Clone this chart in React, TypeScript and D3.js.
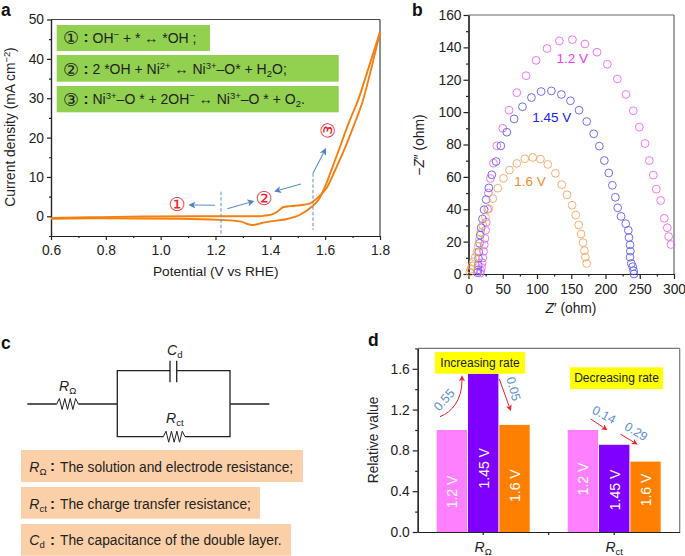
/** Four panel OER figure: LSV curve, Nyquist plot, equivalent circuit, relative resistance bars. */

import { useEffect, useRef } from 'react'
import {
  axisBottom,
  axisLeft,
  curveMonotoneX,
  line,
  scaleBand,
  scaleLinear,
  select,
} from 'd3'
import type { Axis } from 'd3'

const FONT = '"Liberation Sans", Arial, sans-serif'
const INK = '#222'

// panel a, [V vs RHE, mA cm-2]
const forwardScan: [number, number][] = [
  [0.6, -0.4], [0.779, -0.2], [0.961, -0.05], [1.143, 0], [1.362, 0], [1.38, 0.2],
  [1.406, 0.5], [1.424, 1.1], [1.446, 2.3], [1.472, 2.6], [1.508, 2.8], [1.545, 3.3],
  [1.574, 4.8], [1.607, 7.4], [1.636, 11.7], [1.672, 17.3], [1.698, 21.9], [1.712, 24.4],
  [1.738, 29.5], [1.767, 37.2], [1.8, 46.8],
]
const returnScan: [number, number][] = [
  [0.6, -0.6], [0.779, -0.5], [1.07, -0.6], [1.216, -0.9], [1.289, -1.3], [1.333, -2.2],
  [1.37, -1.7], [1.399, -1.3], [1.453, -0.8], [1.508, 0.4], [1.552, 2.5], [1.574, 4.0],
  [1.6, 7.6], [1.625, 12.2], [1.654, 17.6], [1.676, 21.9], [1.69, 24.4], [1.72, 29.5],
  [1.756, 37.2], [1.8, 46.8],
]

// panel b, [Z', -Z'']
const nyquist12: [number, number][] = [
  [17, 0.5], [18, 2], [19, 4], [20, 7], [21, 10], [22, 14], [23, 18], [24, 22], [25, 27],
  [26, 32], [28, 40], [29, 50], [32, 59], [36.5, 68.5], [41.3, 79.2], [50, 90], [59.3, 101.2],
  [70.5, 112], [84.1, 122.5], [98.7, 132], [114.7, 139.3], [132.7, 144], [151.7, 144.8],
  [170, 142.1], [187.6, 137], [202.7, 129.6], [217.3, 120.5], [229.9, 110.9], [240.6, 100.8],
  [249.4, 90.7], [257.7, 80.6], [264, 70.1], [269.8, 61.1], [274.2, 52.4], [280.5, 45.4],
  [285.9, 34.4], [290.2, 28.6], [292.2, 23.1], [295.6, 18.2],
]
const nyquist145: [number, number][] = [
  [13.1, 0.8], [13.6, 2.5], [14.1, 5.5], [14.6, 9.6], [15, 13.7], [16, 19], [17, 24], [18.5, 28.6],
  [20.4, 34], [22.8, 39.7], [25.8, 46], [29.7, 53.2], [34, 61.3], [40.3, 69.5], [47.2, 79.2],
  [55.9, 87.6], [66.6, 95.8], [78.8, 103.3], [91.9, 109], [106, 112.7], [121, 113.1],
  [135.6, 110.9], [148.8, 107], [161.4, 101.2], [172.6, 94.2], [182.8, 86.6], [191, 79],
  [198.3, 70.1], [204.7, 62.4], [210, 54.8], [214.4, 47.4], [217.8, 40.9], [222.7, 35.6],
  [229.5, 31.1], [233.3, 27], [234.3, 22.5], [235.8, 18], [236.3, 14.1], [235.8, 10.4],
  [237.7, 6.5], [239.7, 4.5], [241, 2], [241.6, 0],
]
const nyquist16: [number, number][] = [
  [1.9, 1.2], [3.4, 2.9], [5.3, 4.9], [7.3, 7.6], [9.7, 10.2], [12.2, 13.5], [14.1, 17.2],
  [16, 21.3], [18, 25.6], [20.9, 30], [24.8, 35], [29.7, 40.5], [35.5, 46.6], [42.8, 53],
  [51, 59.1], [59.8, 64.2], [70.5, 68.3], [82.2, 71.2], [93.8, 72], [105, 71], [115.7, 67.7],
  [126.9, 62.2], [136.1, 55.2], [143.9, 48.9], [151.2, 42.5], [156.5, 36.4], [160.9, 30.3],
  [164.3, 24.7], [167.2, 19.4], [169.2, 14.5], [170.6, 10.4], [172.6, 6.5],
]

// panel d
const elements = ['R_ohm', 'R_ct']
const voltages = ['1.2 V', '1.45 V', '1.6 V']
const relativeOhm = [1.0, 1.55, 1.05]
const relativeCt = [1.0, 0.855, 0.69]
const barColors = ['#FF80FF', '#8000FF', '#FF8000']

function AxisG({ axis, y = 0, x = 0, color = INK }: { axis: Axis<any>; x?: number; y?: number; color?: string }) {
  const ref = useRef<SVGGElement>(null)
  useEffect(() => {
    if (!ref.current) return
    const g = select(ref.current)
    g.call(axis as any)
    g.attr('font-family', FONT).attr('font-size', 13.8)
    g.selectAll('line,path').attr('stroke', color).attr('stroke-width', 1.2)
    g.selectAll('text').attr('fill', INK)
  }, [axis, color])
  return <g ref={ref} transform={`translate(${x},${y})`} />
}

type Part = [string, ('sup' | 'sub' | 'i' | 'isub')?]

// text run with super/subscripts, keeps track of the baseline shift
function Rich({ x, y, parts, size = 13, fill = INK, anchor = 'start', transform }: {
  x?: number; y?: number; parts: Part[]; size?: number; fill?: string; anchor?: string; transform?: string
}) {
  let shift = 0
  return (
    <text x={x} y={y} fontSize={size} fill={fill} textAnchor={anchor} transform={transform} fontFamily={FONT}>
      {parts.map(([s, kind], i) => {
        const target = kind === 'sup' ? -size * 0.36 : kind === 'sub' || kind === 'isub' ? size * 0.2 : 0
        const dy = target - shift
        shift = target
        return (
          <tspan
            key={i}
            dy={dy}
            fontSize={kind && kind !== 'i' ? size * 0.68 : size}
            fontStyle={kind === 'i' ? 'italic' : 'normal'}
          >
            {s}
          </tspan>
        )
      })}
    </text>
  )
}

function Circled({ ch, x, y, fill = INK, size = 16, rotate = 0 }: { ch: string; x: number; y: number; fill?: string; size?: number; rotate?: number }) {
  return (
    <text
      transform={`translate(${x},${y}) rotate(${rotate})`}
      fontFamily='"DejaVu Sans", sans-serif'
      fontSize={size}
      fill={fill}
      textAnchor="middle"
      dominantBaseline="central"
    >
      {ch}
    </text>
  )
}

function PanelLetter({ t, x, y }: { t: string; x: number; y: number }) {
  return <text x={x} y={y} fontFamily={FONT} fontWeight="bold" fontSize={17.5} fill="#111">{t}</text>
}

function PanelA() {
  const x = scaleLinear().domain([0.6, 1.8]).range([51, 380])
  const y = scaleLinear().domain([-5, 50]).range([236, 19.5])
  const path = line<[number, number]>().x((d) => x(d[0])).y((d) => y(d[1])).curve(curveMonotoneX)
  const rows = [
    { ch: '①', top: 25, bottom: 51, right: 210, base: 42.7, parts: [['OH'], ['−', 'sup'], [' + * ↔ *OH ;']] as Part[] },
    { ch: '②', top: 55, bottom: 81.7, right: 338.7, base: 74, parts: [['2 *OH + Ni'], ['2+', 'sup'], [' ↔ Ni'], ['3+', 'sup'], ['–O* + H'], ['2', 'sub'], ['O;']] as Part[] },
    { ch: '③', top: 86, bottom: 112.3, right: 338.7, base: 104.3, parts: [['Ni'], ['3+', 'sup'], ['–O * + 2OH'], ['−', 'sup'], [' ↔ Ni'], ['3+', 'sup'], ['–O * + O'], ['2', 'sub'], ['.']] as Part[] },
  ]
  const blue = '#5B8FC9'
  return (
    <g>
      <line x1={51} x2={380} y1={19.5} y2={19.5} stroke="#444" strokeWidth={1.2} />
      <line x1={380} x2={380} y1={19.5} y2={236} stroke="#444" strokeWidth={1.2} />
      <AxisG axis={axisLeft(y).tickValues([-5, 5, 15, 25, 35, 45]).tickSize(2).tickFormat(() => '').tickSizeOuter(0)} x={51} />
      <AxisG axis={axisLeft(y).tickValues([0, 10, 20, 30, 40, 50]).tickSize(4).tickPadding(3).tickSizeOuter(0)} x={51} />
      <AxisG axis={axisBottom(x).tickValues([0.7, 0.9, 1.1, 1.3, 1.5, 1.7]).tickSize(2).tickFormat(() => '').tickSizeOuter(0)} y={236} />
      <AxisG axis={axisBottom(x).tickValues([0.6, 0.8, 1.0, 1.2, 1.4, 1.6, 1.8]).tickSize(4).tickPadding(5).tickFormat((d) => Number(d).toFixed(1)).tickSizeOuter(0)} y={236} />

      {rows.map((r) => (
        <g key={r.ch}>
          <rect x={56.7} y={r.top} width={r.right - 56.7} height={r.bottom - r.top} fill="#92D050" />
          <Circled ch={r.ch} x={71} y={r.base - 5} size={18} />
          <text x={83.5} y={r.base - 0.5} fontFamily={FONT} fontWeight="bold" fontSize={15} fill={INK}>:</text>
          <Rich x={92.5} y={r.base} parts={r.parts} size={14} />
        </g>
      ))}

      <path d={path(returnScan) ?? ''} fill="none" stroke="#F57F0F" strokeWidth={1.9} />
      <path d={path(forwardScan) ?? ''} fill="none" stroke="#F57F0F" strokeWidth={1.9} />

      <line x1={221} x2={221} y1={191.7} y2={235} stroke={blue} strokeWidth={1} strokeDasharray="3.5 2" />
      <line x1={313} x2={313} y1={173.3} y2={230} stroke={blue} strokeWidth={1} strokeDasharray="3.5 2" />
      <line x1={215} y1={205.2} x2={194} y2={205} stroke={blue} strokeWidth={1.1} markerEnd="url(#arrowBlue)" />
      <line x1={227.3} y1={208.7} x2={249} y2={202.5} stroke={blue} strokeWidth={1.1} markerEnd="url(#arrowBlue)" />
      <line x1={301} y1={184} x2={279.5} y2={190} stroke={blue} strokeWidth={1.1} markerEnd="url(#arrowBlue)" />
      <line x1={313} y1={173.3} x2={323.5} y2={153} stroke={blue} strokeWidth={1.1} markerEnd="url(#arrowBlue)" />

      <Circled ch="①" x={177} y={204} fill="#F0202A" size={19} />
      <Circled ch="②" x={264} y={198.3} fill="#F0202A" size={19} />
      <Circled ch="③" x={327.7} y={130.5} fill="#F0202A" size={19} rotate={-80} />

      <text x={215.7} y={275.7} textAnchor="middle" fontFamily={FONT} fontSize={13.7} fill={INK}>Potential (V vs RHE)</text>
      <Rich
        transform="translate(15,127) rotate(-90)"
        anchor="middle"
        size={13.8}
        parts={[['Current density (mA cm'], ['−2', 'sup'], [')']]}
      />
    </g>
  )
}

function PanelB() {
  const x = scaleLinear().domain([0, 300]).range([468.5, 674])
  const y = scaleLinear().domain([0, 160]).range([274, 15])
  const series: { data: [number, number][]; color: string }[] = [
    { data: nyquist12, color: '#F065F0' },
    { data: nyquist145, color: '#5F5FF0' },
    { data: nyquist16, color: '#F5A55F' },
  ]
  return (
    <g>
      <line x1={468.5} x2={674} y1={15} y2={15} stroke="#666" strokeWidth={1.2} />
      <line x1={674} x2={674} y1={15} y2={274} stroke="#666" strokeWidth={1.2} />
      <AxisG axis={axisLeft(y).tickValues([10, 30, 50, 70, 90, 110, 130, 150]).tickSize(2.5).tickFormat(() => '').tickSizeOuter(0)} x={468.5} />
      <AxisG axis={axisLeft(y).tickValues([0, 20, 40, 60, 80, 100, 120, 140, 160]).tickSize(5).tickPadding(2).tickSizeOuter(0)} x={468.5} />
      <AxisG axis={axisBottom(x).tickValues([25, 75, 125, 175, 225, 275]).tickSize(2.5).tickFormat(() => '').tickSizeOuter(0)} y={274} />
      <AxisG axis={axisBottom(x).tickValues([0, 50, 100, 150, 200, 250, 300]).tickSize(5).tickPadding(5).tickSizeOuter(0)} y={274} />

      {series.map((s) => (
        <g key={s.color}>
          {s.data.map((d, i) => (
            <circle key={i} cx={x(d[0])} cy={y(d[1])} r={3.9} fill="none" stroke={s.color} strokeWidth={0.9} />
          ))}
        </g>
      ))}

      <text x={572.3} y={62.5} textAnchor="middle" fontFamily={FONT} fontSize={13.5} fill="#F03CF0">1.2 V</text>
      <text x={551.7} y={121.5} textAnchor="middle" fontFamily={FONT} fontSize={13.5} fill="#2222E8">1.45 V</text>
      <text x={530} y={185.5} textAnchor="middle" fontFamily={FONT} fontSize={13.5} fill="#F58A2A">1.6 V</text>

      <Rich x={571} y={313} anchor="middle" size={13.8} parts={[['Z', 'i'], ['′ (ohm)']]} />
      <Rich transform="translate(423.5,145) rotate(-90)" anchor="middle" size={13.8} parts={[['−'], ['Z', 'i'], ['″ (ohm)']]} />
    </g>
  )
}

function Zigzag({ x0, x1, y }: { x0: number; x1: number; y: number }) {
  const n = 8
  const step = (x1 - x0) / n
  const pts = Array.from({ length: n + 1 }, (_, i) => {
    const py = i === 0 || i === n ? y : i % 2 ? y - 5.5 : y + 5.5
    return `${x0 + i * step},${py}`
  })
  return <polyline points={pts.join(' ')} fill="none" stroke={INK} strokeWidth={1} />
}

function PanelC() {
  const wire = { stroke: INK, strokeWidth: 1.3, fill: 'none' }
  const notes: { top: number; bottom: number; right: number; base: number; sym: Part[]; text: string }[] = [
    { top: 450, bottom: 482, right: 303, base: 471.7, sym: [['R', 'i'], ['Ω', 'sub']], text: 'The solution and electrode resistance;' },
    { top: 487, bottom: 518.7, right: 260, base: 509, sym: [['R', 'i'], ['ct', 'sub']], text: 'The charge transfer resistance;' },
    { top: 524, bottom: 555.7, right: 291, base: 545, sym: [['C', 'i'], ['d', 'sub']], text: 'The capacitance of the double layer.' },
  ]
  return (
    <g>
      <path d="M27.3 404H56.7M78.3 404H117.3V370.7H170M176.7 370.7H230V436.7H185M163.3 436.7H117.3V404M230 404H269.3" {...wire} />
      <path d="M170 360.7V382.3M176.7 360.7V382.3" {...wire} />
      <Zigzag x0={56.7} x1={78.3} y={404} />
      <Zigzag x0={163.3} x1={185} y={436.7} />
      <Rich x={59} y={390.7} size={14} parts={[['R', 'i'], ['Ω', 'sub']]} />
      <Rich x={167} y={355} size={14} parts={[['C', 'i'], ['d', 'sub']]} />
      <Rich x={166} y={423.3} size={14} parts={[['R', 'i'], ['ct', 'sub']]} />
      {notes.map((n) => (
        <g key={n.base}>
          <rect x={21} y={n.top} width={n.right - 21} height={n.bottom - n.top} fill="#FBD0A8" />
          <Rich x={29.3} y={n.base} size={14} parts={n.sym} />
          <text x={50} y={n.base - 0.5} fontFamily={FONT} fontWeight="bold" fontSize={15} fill={INK}>:</text>
          <text x={60} y={n.base} fontFamily={FONT} fontSize={13.8} fill={INK}>{n.text}</text>
        </g>
      ))}
    </g>
  )
}

function PanelD() {
  const y = scaleLinear().domain([0, 1.8]).range([532, 348.4])
  const x0 = scaleBand().domain(elements).range([417.7, 679.7])
  const x1 = scaleBand().domain(voltages).range([-46.5, 46.5]).paddingInner(0.03)
  const groups = [relativeOhm, relativeCt]
  // label centres along the bars, px
  const labelY = [[492, 468.3, 485.7], [479, 490, 490]]
  const blue = '#5B8FD5'
  const red = '#F0202A'
  const center = (e: string) => (x0(e) ?? 0) + x0.bandwidth() / 2
  return (
    <g>
      <line x1={417.7} x2={679.7} y1={348.4} y2={348.4} stroke="#777" strokeWidth={1.2} />
      <line x1={679.7} x2={679.7} y1={348.4} y2={532} stroke="#777" strokeWidth={1.2} />

      {elements.map((e, gi) => (
        <g key={e} transform={`translate(${center(e)},0)`}>
          {voltages.map((v, i) => (
            <g key={v}>
              <rect
                x={x1(v)}
                y={y(groups[gi][i])}
                width={x1.bandwidth()}
                height={532 - y(groups[gi][i])}
                fill={barColors[i]}
              />
              <text
                transform={`translate(${(x1(v) ?? 0) + x1.bandwidth() / 2 + 0.5},${labelY[gi][i]}) rotate(-90)`}
                textAnchor="middle"
                dominantBaseline="central"
                fontFamily={FONT}
                fontSize={14}
                fill="#fff"
              >
                {v}
              </text>
            </g>
          ))}
        </g>
      ))}

      <AxisG axis={axisLeft(y).tickValues([0.2, 0.6, 1.0, 1.4, 1.8]).tickSize(2.5).tickFormat(() => '').tickSizeOuter(0)} x={417.7} />
      <AxisG axis={axisLeft(y).tickValues([0, 0.4, 0.8, 1.2, 1.6]).tickSize(5).tickPadding(3).tickFormat((d) => Number(d).toFixed(1)).tickSizeOuter(0)} x={417.7} />
      <AxisG axis={axisBottom(x0).tickSize(3).tickFormat(() => '').tickSizeOuter(0)} y={532} />
      <line x1={548.7} x2={548.7} y1={532} y2={535} stroke={INK} strokeWidth={1.2} />

      <Rich x={center(elements[0])} y={551.7} anchor="middle" size={14} parts={[['R', 'i'], ['Ω', 'sub']]} />
      <Rich x={center(elements[1])} y={551.7} anchor="middle" size={14} parts={[['R', 'i'], ['ct', 'sub']]} />
      <text transform="translate(378,440) rotate(-90)" textAnchor="middle" fontFamily={FONT} fontSize={13.8} fill={INK}>Relative value</text>

      <rect x={435} y={352} width={90} height={21.7} fill="#FFFF00" />
      <rect x={570} y={367.3} width={93} height={21.7} fill="#FFFF00" />
      <text x={480} y={367} textAnchor="middle" fontFamily={FONT} fontSize={12} fill={INK}>Increasing rate</text>
      <text x={616.5} y={382} textAnchor="middle" fontFamily={FONT} fontSize={12} fill={INK}>Decreasing rate</text>

      <path d="M440 416.7C452 412 462 400 462 380" fill="none" stroke={red} strokeWidth={1} markerEnd="url(#arrowRed)" />
      <line x1={499.3} y1={379} x2={509.2} y2={406.5} stroke={red} strokeWidth={1} markerEnd="url(#arrowRed)" />
      <line x1={590.7} y1={419} x2={603.5} y2={427.5} stroke={red} strokeWidth={1} markerEnd="url(#arrowRed)" />
      <line x1={620.3} y1={434} x2={633.5} y2={442} stroke={red} strokeWidth={1} markerEnd="url(#arrowRed)" />

      {([['0.55', 444.3, 400, -48], ['0.05', 513.3, 389, 75], ['0.14', 604, 415, 28], ['0.29', 636, 431.7, 32]] as [string, number, number, number][]).map(([t, tx, ty, r]) => (
        <text
          key={t}
          transform={`translate(${tx},${ty}) rotate(${r})`}
          textAnchor="middle"
          dominantBaseline="central"
          fontFamily={FONT}
          fontSize={12.5}
          fill={blue}
        >
          {t}
        </text>
      ))}
    </g>
  )
}

export default function App() {
  return (
    <svg width={685} height={556} style={{ position: 'absolute', left: 0, top: 0, background: '#fff' }}>
      <defs>
        <marker id="arrowBlue" viewBox="0 0 10 10" refX="2" refY="5" markerWidth="7" markerHeight="7" markerUnits="userSpaceOnUse" orient="auto">
          <path d="M0 0L10 5L0 10L2.5 5Z" fill="#4F81BD" />
        </marker>
        <marker id="arrowRed" viewBox="0 0 10 10" refX="2" refY="5" markerWidth="6" markerHeight="6" markerUnits="userSpaceOnUse" orient="auto">
          <path d="M0 0L10 5L0 10L2.5 5Z" fill="#F0202A" />
        </marker>
      </defs>
      <PanelLetter t="a" x={1} y={16} />
      <PanelLetter t="b" x={412} y={16} />
      <PanelLetter t="c" x={1} y={349} />
      <PanelLetter t="d" x={368} y={346} />
      <PanelA />
      <PanelB />
      <PanelC />
      <PanelD />
    </svg>
  )
}
